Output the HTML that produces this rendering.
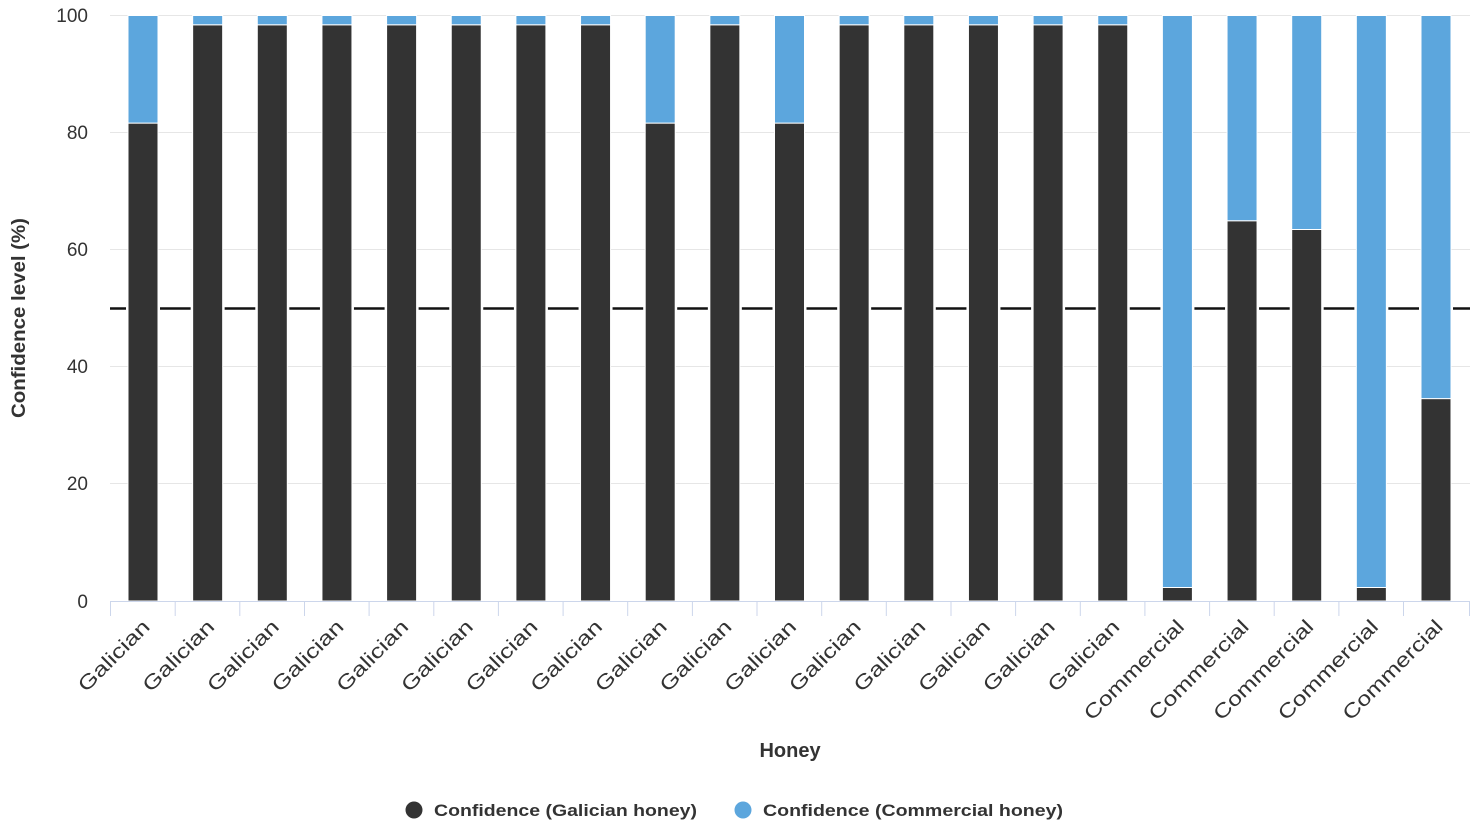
<!DOCTYPE html>
<html><head><meta charset="utf-8"><style>html,body{margin:0;padding:0;background:#fff}svg{display:block}text{font-family:"Liberation Sans","DejaVu Sans",sans-serif;fill:#333}</style></head>
<body>
<svg width="1475" height="836" viewBox="0 0 1475 836" xmlns="http://www.w3.org/2000/svg">
<g stroke="#e6e6e6" stroke-width="1">
<line x1="110" y1="15.5" x2="1470" y2="15.5"/>
<line x1="110" y1="132.5" x2="1470" y2="132.5"/>
<line x1="110" y1="249.5" x2="1470" y2="249.5"/>
<line x1="110" y1="366.5" x2="1470" y2="366.5"/>
<line x1="110" y1="483.5" x2="1470" y2="483.5"/>
</g>
<line x1="110" y1="308.5" x2="1470" y2="308.5" stroke="#111" stroke-width="2.5"/>
<g fill="#fff">
<rect x="126" y="300" width="34" height="17"/><rect x="190.65" y="300" width="34" height="17"/><rect x="255.3" y="300" width="34" height="17"/><rect x="319.95" y="300" width="34" height="17"/><rect x="384.6" y="300" width="34" height="17"/><rect x="449.25" y="300" width="34" height="17"/><rect x="513.9" y="300" width="34" height="17"/><rect x="578.55" y="300" width="34" height="17"/><rect x="643.2" y="300" width="34" height="17"/><rect x="707.85" y="300" width="34" height="17"/><rect x="772.5" y="300" width="34" height="17"/><rect x="837.15" y="300" width="34" height="17"/><rect x="901.8" y="300" width="34" height="17"/><rect x="966.45" y="300" width="34" height="17"/><rect x="1031.1" y="300" width="34" height="17"/><rect x="1095.75" y="300" width="34" height="17"/><rect x="1160.4" y="300" width="34" height="17"/><rect x="1225.05" y="300" width="34" height="17"/><rect x="1289.7" y="300" width="34" height="17"/><rect x="1354.35" y="300" width="34" height="17"/><rect x="1419" y="300" width="34" height="17"/>
</g>
<g font-size="19" text-anchor="end">
<text x="88" y="22">100</text><text x="88" y="139">80</text><text x="88" y="256">60</text><text x="88" y="373">40</text><text x="88" y="490">20</text><text x="88" y="608">0</text>
</g>
<g stroke="#fff" stroke-width="1">
<g fill="#333">
<rect x="128" y="123.1" width="30" height="477.9"/>
<rect x="192.65" y="24.8" width="30" height="576.2"/>
<rect x="257.3" y="24.8" width="30" height="576.2"/>
<rect x="321.95" y="24.8" width="30" height="576.2"/>
<rect x="386.6" y="24.8" width="30" height="576.2"/>
<rect x="451.25" y="24.8" width="30" height="576.2"/>
<rect x="515.9" y="24.8" width="30" height="576.2"/>
<rect x="580.55" y="24.8" width="30" height="576.2"/>
<rect x="645.2" y="123.1" width="30" height="477.9"/>
<rect x="709.85" y="24.8" width="30" height="576.2"/>
<rect x="774.5" y="123.1" width="30" height="477.9"/>
<rect x="839.15" y="24.8" width="30" height="576.2"/>
<rect x="903.8" y="24.8" width="30" height="576.2"/>
<rect x="968.45" y="24.8" width="30" height="576.2"/>
<rect x="1033.1" y="24.8" width="30" height="576.2"/>
<rect x="1097.75" y="24.8" width="30" height="576.2"/>
<rect x="1162.4" y="587.5" width="30" height="13.5"/>
<rect x="1227.05" y="220.75" width="30" height="380.25"/>
<rect x="1291.7" y="229.5" width="30" height="371.5"/>
<rect x="1356.35" y="587.5" width="30" height="13.5"/>
<rect x="1421" y="398.6" width="30" height="202.4"/>
</g>
<g fill="#5ca6dd">
<rect x="128" y="15.5" width="30" height="107.6"/>
<rect x="192.65" y="15.5" width="30" height="9.3"/>
<rect x="257.3" y="15.5" width="30" height="9.3"/>
<rect x="321.95" y="15.5" width="30" height="9.3"/>
<rect x="386.6" y="15.5" width="30" height="9.3"/>
<rect x="451.25" y="15.5" width="30" height="9.3"/>
<rect x="515.9" y="15.5" width="30" height="9.3"/>
<rect x="580.55" y="15.5" width="30" height="9.3"/>
<rect x="645.2" y="15.5" width="30" height="107.6"/>
<rect x="709.85" y="15.5" width="30" height="9.3"/>
<rect x="774.5" y="15.5" width="30" height="107.6"/>
<rect x="839.15" y="15.5" width="30" height="9.3"/>
<rect x="903.8" y="15.5" width="30" height="9.3"/>
<rect x="968.45" y="15.5" width="30" height="9.3"/>
<rect x="1033.1" y="15.5" width="30" height="9.3"/>
<rect x="1097.75" y="15.5" width="30" height="9.3"/>
<rect x="1162.4" y="15.5" width="30" height="572"/>
<rect x="1227.05" y="15.5" width="30" height="205.25"/>
<rect x="1291.7" y="15.5" width="30" height="214"/>
<rect x="1356.35" y="15.5" width="30" height="572"/>
<rect x="1421" y="15.5" width="30" height="383.1"/>
</g>
</g>
<line x1="110" y1="601.5" x2="1470" y2="601.5" stroke="#ccd6eb" stroke-width="1"/>
<g stroke="#ccd6eb" stroke-width="1">
<line x1="110.5" y1="601" x2="110.5" y2="616"/><line x1="175.2" y1="601" x2="175.2" y2="616"/><line x1="239.8" y1="601" x2="239.8" y2="616"/><line x1="304.5" y1="601" x2="304.5" y2="616"/><line x1="369.1" y1="601" x2="369.1" y2="616"/><line x1="433.8" y1="601" x2="433.8" y2="616"/><line x1="498.4" y1="601" x2="498.4" y2="616"/><line x1="563.1" y1="601" x2="563.1" y2="616"/><line x1="627.7" y1="601" x2="627.7" y2="616"/><line x1="692.4" y1="601" x2="692.4" y2="616"/><line x1="757" y1="601" x2="757" y2="616"/><line x1="821.7" y1="601" x2="821.7" y2="616"/><line x1="886.3" y1="601" x2="886.3" y2="616"/><line x1="951" y1="601" x2="951" y2="616"/><line x1="1015.6" y1="601" x2="1015.6" y2="616"/><line x1="1080.3" y1="601" x2="1080.3" y2="616"/><line x1="1144.9" y1="601" x2="1144.9" y2="616"/><line x1="1209.6" y1="601" x2="1209.6" y2="616"/><line x1="1274.2" y1="601" x2="1274.2" y2="616"/><line x1="1338.9" y1="601" x2="1338.9" y2="616"/><line x1="1403.5" y1="601" x2="1403.5" y2="616"/><line x1="1469.5" y1="601" x2="1469.5" y2="616"/>
</g>
<g font-size="20" text-anchor="end">
<text transform="translate(151,628) rotate(-45)" textLength="92" lengthAdjust="spacingAndGlyphs">Galician</text>
<text transform="translate(215.65,628) rotate(-45)" textLength="92" lengthAdjust="spacingAndGlyphs">Galician</text>
<text transform="translate(280.3,628) rotate(-45)" textLength="92" lengthAdjust="spacingAndGlyphs">Galician</text>
<text transform="translate(344.95,628) rotate(-45)" textLength="92" lengthAdjust="spacingAndGlyphs">Galician</text>
<text transform="translate(409.6,628) rotate(-45)" textLength="92" lengthAdjust="spacingAndGlyphs">Galician</text>
<text transform="translate(474.25,628) rotate(-45)" textLength="92" lengthAdjust="spacingAndGlyphs">Galician</text>
<text transform="translate(538.9,628) rotate(-45)" textLength="92" lengthAdjust="spacingAndGlyphs">Galician</text>
<text transform="translate(603.55,628) rotate(-45)" textLength="92" lengthAdjust="spacingAndGlyphs">Galician</text>
<text transform="translate(668.2,628) rotate(-45)" textLength="92" lengthAdjust="spacingAndGlyphs">Galician</text>
<text transform="translate(732.85,628) rotate(-45)" textLength="92" lengthAdjust="spacingAndGlyphs">Galician</text>
<text transform="translate(797.5,628) rotate(-45)" textLength="92" lengthAdjust="spacingAndGlyphs">Galician</text>
<text transform="translate(862.15,628) rotate(-45)" textLength="92" lengthAdjust="spacingAndGlyphs">Galician</text>
<text transform="translate(926.8,628) rotate(-45)" textLength="92" lengthAdjust="spacingAndGlyphs">Galician</text>
<text transform="translate(991.45,628) rotate(-45)" textLength="92" lengthAdjust="spacingAndGlyphs">Galician</text>
<text transform="translate(1056.1,628) rotate(-45)" textLength="92" lengthAdjust="spacingAndGlyphs">Galician</text>
<text transform="translate(1120.75,628) rotate(-45)" textLength="92" lengthAdjust="spacingAndGlyphs">Galician</text>
<text transform="translate(1185.4,628) rotate(-45)" textLength="132" lengthAdjust="spacingAndGlyphs">Commercial</text>
<text transform="translate(1250.05,628) rotate(-45)" textLength="132" lengthAdjust="spacingAndGlyphs">Commercial</text>
<text transform="translate(1314.7,628) rotate(-45)" textLength="132" lengthAdjust="spacingAndGlyphs">Commercial</text>
<text transform="translate(1379.35,628) rotate(-45)" textLength="132" lengthAdjust="spacingAndGlyphs">Commercial</text>
<text transform="translate(1444,628) rotate(-45)" textLength="132" lengthAdjust="spacingAndGlyphs">Commercial</text>
</g>
<text x="790" y="757" font-size="20" font-weight="bold" text-anchor="middle">Honey</text>
<text transform="translate(25,318) rotate(-90)" font-size="19" font-weight="bold" text-anchor="middle" textLength="200" lengthAdjust="spacingAndGlyphs">Confidence level (%)</text>
<circle cx="414" cy="810" r="8.5" fill="#333"/>
<text x="434" y="816" font-size="17" font-weight="bold" textLength="263" lengthAdjust="spacingAndGlyphs">Confidence (Galician honey)</text>
<circle cx="743" cy="810" r="8.5" fill="#5ca6dd"/>
<text x="763" y="816" font-size="17" font-weight="bold" textLength="300" lengthAdjust="spacingAndGlyphs">Confidence (Commercial honey)</text>
</svg>
</body></html>
